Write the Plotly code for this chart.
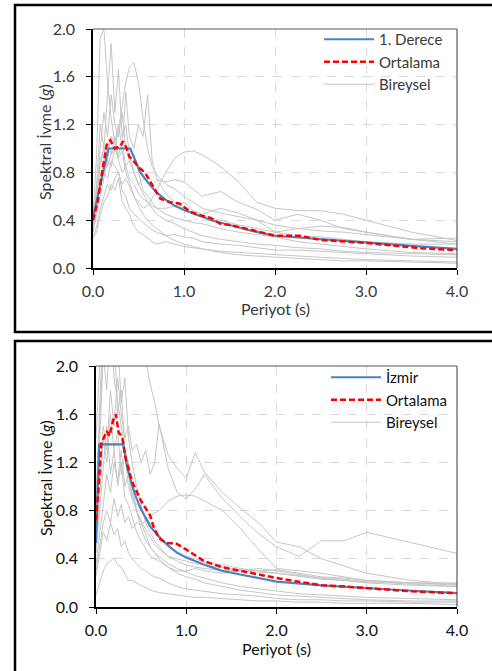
import plotly.graph_objects as go

# ---------------- data ----------------
PERIODS = [0, 0.04, 0.08, 0.12, 0.16, 0.2, 0.24, 0.28, 0.32, 0.36, 0.4, 0.45, 0.5, 0.55, 0.6, 0.65,
           0.7, 0.8, 0.9, 1.0, 1.1, 1.2, 1.4, 1.6, 1.8, 2.0, 2.25, 2.5, 2.75, 3.0, 3.5, 4.0]

# top panel: individual records (Bireysel)
top_rec_1 = [0.42, 0.95, 1.93, 2.0, 1.55, 1.25, 1.05, 0.92, 0.98, 0.80, 0.72, 0.60, 0.52, 0.45, 0.40, 0.36,
             0.33, 0.27, 0.23, 0.20, 0.18, 0.16, 0.13, 0.11, 0.10, 0.09, 0.08, 0.07, 0.06, 0.06, 0.05, 0.04]
top_rec_2 = [0.38, 0.70, 1.20, 1.00, 1.45, 1.88, 1.30, 1.66, 1.10, 1.20, 0.95, 0.80, 0.70, 0.62, 0.55, 0.50,
             0.45, 0.40, 0.37, 0.33, 0.30, 0.27, 0.24, 0.22, 0.20, 0.19, 0.17, 0.16, 0.14, 0.13, 0.12, 0.11]
top_rec_3 = [0.30, 0.45, 0.60, 0.75, 0.90, 0.85, 1.00, 1.15, 1.35, 1.55, 1.68, 1.72, 1.55, 1.25, 1.00, 0.85,
             0.78, 0.70, 0.66, 0.60, 0.55, 0.50, 0.46, 0.43, 0.40, 0.36, 0.33, 0.31, 0.30, 0.28, 0.24, 0.20]
top_rec_4 = [0.40, 0.60, 0.85, 1.00, 0.90, 1.10, 1.05, 1.20, 1.00, 1.47, 1.10, 1.00, 1.20, 1.10, 1.45, 0.90,
             0.75, 0.62, 0.55, 0.50, 0.46, 0.44, 0.40, 0.36, 0.33, 0.30, 0.27, 0.26, 0.24, 0.22, 0.20, 0.20]
top_rec_5 = [0.25, 0.35, 0.50, 0.60, 0.70, 0.65, 0.75, 0.80, 0.70, 0.75, 0.68, 0.60, 0.55, 0.50, 0.52, 0.58,
             0.65, 0.80, 0.92, 0.97, 0.98, 0.95, 0.85, 0.72, 0.55, 0.50, 0.48, 0.48, 0.45, 0.40, 0.30, 0.23]
top_rec_6 = [0.35, 0.55, 0.75, 0.90, 1.05, 0.95, 1.10, 0.95, 1.05, 0.85, 0.90, 0.80, 0.70, 0.75, 0.72, 0.70,
             0.74, 0.72, 0.74, 0.72, 0.66, 0.60, 0.64, 0.55, 0.49, 0.40, 0.45, 0.40, 0.33, 0.30, 0.24, 0.22]
top_rec_7 = [0.40, 0.60, 0.90, 1.00, 0.85, 0.95, 1.00, 0.90, 0.80, 0.85, 0.75, 0.70, 0.62, 0.58, 0.55, 0.52,
             0.50, 0.50, 0.52, 0.55, 0.48, 0.45, 0.50, 0.46, 0.40, 0.30, 0.33, 0.35, 0.34, 0.30, 0.24, 0.25]
top_rec_8 = [0.25, 0.30, 0.45, 0.55, 0.60, 0.70, 0.65, 0.75, 0.55, 0.50, 0.45, 0.35, 0.30, 0.28, 0.25, 0.22,
             0.20, 0.22, 0.20, 0.18, 0.17, 0.16, 0.14, 0.13, 0.12, 0.11, 0.10, 0.09, 0.08, 0.07, 0.06, 0.05]
top_rec_9 = [0.30, 0.50, 0.70, 0.80, 0.75, 0.90, 0.85, 0.80, 0.65, 0.60, 0.50, 0.45, 0.42, 0.38, 0.35, 0.32,
             0.30, 0.27, 0.28, 0.26, 0.25, 0.22, 0.20, 0.19, 0.17, 0.15, 0.15, 0.14, 0.13, 0.12, 0.10, 0.09]
top_rec_10 = [0.40, 0.65, 1.00, 1.30, 1.10, 1.45, 1.20, 1.10, 1.30, 1.00, 0.90, 0.95, 0.80, 0.65, 0.60, 0.55,
              0.50, 0.45, 0.42, 0.40, 0.38, 0.37, 0.33, 0.30, 0.28, 0.26, 0.22, 0.20, 0.18, 0.16, 0.13, 0.12]

# top panel: design spectrum (1. Derece) and mean (Ortalama)
top_design_T = [0, 0.17, 0.41, 0.45, 0.52, 0.6, 0.7, 0.8, 0.9, 1.0, 1.15, 1.3, 1.5, 1.75, 2.0, 2.5, 3.0, 3.5, 4.0]
top_design_Sa = [0.42, 1.0, 1.0, 0.93, 0.80, 0.72, 0.63, 0.57, 0.52, 0.485, 0.44, 0.40, 0.36, 0.31, 0.27,
                 0.24, 0.21, 0.185, 0.16]
top_mean_T = [0, 0.05, 0.1, 0.15, 0.19, 0.24, 0.3, 0.33, 0.37, 0.4, 0.44, 0.52, 0.57, 0.63, 0.68, 0.74, 0.85,
              0.95, 1.0, 1.07, 1.18, 1.29, 1.4, 1.5, 1.73, 2.0, 2.27, 2.5, 3.0, 3.3, 3.6, 4.0]
top_mean_Sa = [0.40, 0.55, 0.80, 1.03, 1.07, 1.0, 1.02, 1.06, 1.0, 0.93, 0.90, 0.83, 0.80, 0.72, 0.65, 0.58,
               0.55, 0.54, 0.51, 0.47, 0.44, 0.42, 0.37, 0.36, 0.32, 0.27, 0.27, 0.235, 0.21, 0.19, 0.165, 0.15]

# bottom panel: individual records (Bireysel)
bot_rec_1 = [0.90, 1.60, 2.40, 2.60, 2.30, 2.80, 2.50, 2.70, 2.40, 2.60, 2.30, 2.50, 2.25, 2.05, 1.85, 1.70,
             1.50, 1.26, 1.15, 1.07, 1.28, 1.12, 0.95, 0.82, 0.70, 0.54, 0.50, 0.40, 0.34, 0.28, 0.22, 0.19]
bot_rec_2 = [0.70, 1.10, 1.50, 1.30, 1.80, 1.50, 1.90, 1.60, 1.40, 1.50, 1.30, 1.35, 1.20, 1.30, 1.10, 1.20,
             1.52, 1.15, 0.95, 0.90, 0.98, 1.10, 0.90, 0.75, 0.61, 0.50, 0.42, 0.55, 0.55, 0.62, 0.53, 0.445]
bot_rec_3 = [0.30, 0.50, 0.70, 0.80, 0.70, 0.90, 0.75, 0.85, 0.70, 0.75, 0.65, 0.70, 0.68, 0.72, 0.75, 0.78,
             0.80, 0.88, 0.92, 0.93, 0.92, 0.88, 0.80, 0.65, 0.48, 0.32, 0.30, 0.28, 0.25, 0.22, 0.20, 0.20]
bot_rec_4 = [1.40, 2.30, 2.60, 2.10, 2.40, 1.90, 1.70, 1.50, 1.30, 1.10, 0.95, 0.80, 0.70, 0.60, 0.50, 0.45,
             0.42, 0.36, 0.32, 0.29, 0.26, 0.24, 0.20, 0.17, 0.15, 0.13, 0.11, 0.10, 0.09, 0.08, 0.07, 0.06]
bot_rec_5 = [0.60, 1.30, 2.10, 1.80, 2.40, 2.00, 2.20, 1.70, 1.90, 1.40, 1.20, 1.00, 0.85, 0.70, 0.62, 0.55,
             0.50, 0.42, 0.38, 0.35, 0.33, 0.32, 0.30, 0.31, 0.30, 0.31, 0.28, 0.25, 0.24, 0.22, 0.20, 0.18]
bot_rec_6 = [0.50, 0.90, 1.40, 1.20, 1.60, 1.30, 1.45, 1.10, 1.25, 1.00, 0.90, 0.80, 0.72, 0.64, 0.58, 0.52,
             0.48, 0.42, 0.40, 0.38, 0.36, 0.35, 0.33, 0.30, 0.29, 0.28, 0.26, 0.24, 0.22, 0.21, 0.20, 0.19]
bot_rec_7 = [0.45, 0.80, 1.20, 1.50, 1.10, 1.30, 1.00, 1.20, 0.90, 0.85, 0.75, 0.62, 0.55, 0.48, 0.42, 0.40,
             0.38, 0.33, 0.30, 0.30, 0.32, 0.30, 0.28, 0.30, 0.32, 0.30, 0.27, 0.24, 0.23, 0.21, 0.19, 0.17]
bot_rec_8 = [0.10, 0.20, 0.30, 0.36, 0.38, 0.41, 0.35, 0.33, 0.28, 0.22, 0.22, 0.20, 0.18, 0.16, 0.14, 0.13,
             0.12, 0.11, 0.10, 0.09, 0.08, 0.08, 0.07, 0.06, 0.05, 0.05, 0.04, 0.04, 0.03, 0.03, 0.03, 0.02]
bot_rec_9 = [0.25, 0.45, 0.62, 0.55, 0.70, 0.60, 0.65, 0.50, 0.55, 0.45, 0.40, 0.36, 0.32, 0.30, 0.27, 0.25,
             0.24, 0.20, 0.17, 0.15, 0.14, 0.13, 0.11, 0.10, 0.09, 0.07, 0.06, 0.06, 0.05, 0.05, 0.04, 0.04]
bot_rec_10 = [0.80, 1.50, 2.20, 2.70, 2.00, 2.30, 1.60, 1.80, 1.30, 1.20, 1.00, 0.80, 0.65, 0.55, 0.50, 0.44,
              0.40, 0.33, 0.28, 0.25, 0.23, 0.20, 0.17, 0.14, 0.12, 0.10, 0.09, 0.08, 0.07, 0.06, 0.05, 0.05]
bot_rec_11 = [0.35, 0.60, 0.90, 1.10, 0.95, 1.20, 1.05, 1.30, 1.00, 1.10, 0.90, 0.85, 0.80, 0.75, 0.70, 0.65,
              0.60, 0.50, 0.45, 0.42, 0.40, 0.37, 0.35, 0.32, 0.30, 0.28, 0.26, 0.23, 0.22, 0.20, 0.18, 0.17]

# bottom panel: design spectrum (İzmir) and mean (Ortalama)
bot_design_T = [0, 0.035, 0.3, 0.35, 0.4, 0.45, 0.5, 0.6, 0.7, 0.8, 0.9, 1.0, 1.2, 1.4, 1.6, 1.8, 2.0, 2.5,
                3.0, 3.5, 4.0]
bot_design_Sa = [0.53, 1.35, 1.35, 1.15, 1.01, 0.90, 0.81, 0.67, 0.58, 0.51, 0.45, 0.41, 0.35, 0.30, 0.27,
                 0.24, 0.21, 0.18, 0.155, 0.135, 0.115]
bot_mean_T = [0, 0.03, 0.06, 0.1, 0.12, 0.15, 0.19, 0.22, 0.25, 0.29, 0.33, 0.4, 0.45, 0.5, 0.55, 0.6, 0.64,
              0.7, 0.78, 0.88, 0.95, 1.05, 1.2, 1.4, 1.6, 1.8, 2.0, 2.25, 2.5, 2.75, 3.0, 3.5, 4.0]
bot_mean_Sa = [0.72, 1.0, 1.36, 1.42, 1.46, 1.42, 1.55, 1.60, 1.45, 1.41, 1.23, 1.04, 0.96, 0.88, 0.82, 0.76,
               0.66, 0.57, 0.53, 0.53, 0.50, 0.45, 0.38, 0.33, 0.30, 0.27, 0.24, 0.21, 0.18, 0.17, 0.155,
               0.13, 0.114]

X_TICKS = [0, 1, 2, 3, 4]
Y_TICKS = [0, 0.4, 0.8, 1.2, 1.6, 2.0]

top_records = [top_rec_1, top_rec_2, top_rec_3, top_rec_4, top_rec_5, top_rec_6, top_rec_7, top_rec_8,
               top_rec_9, top_rec_10]
bot_records = [bot_rec_1, bot_rec_2, bot_rec_3, bot_rec_4, bot_rec_5, bot_rec_6, bot_rec_7, bot_rec_8,
               bot_rec_9, bot_rec_10, bot_rec_11]

# ---------------- style ----------------
W, H = 492, 671
FONT = "Lato"
FS = 16
LFS = 15
GRAY = "#c6c6c6"
BLUE = "#4a83c2"
RED = "#ff0000"
TOP_COLOR = "#3a3a3a"
BOT_COLOR = "#111111"

fig = go.Figure()


def add_panel(records, design_T, design_Sa, design_name, mean_T, mean_Sa, xa, ya, legend):
    for i, rec in enumerate(records):
        fig.add_trace(go.Scatter(x=PERIODS, y=rec, mode="lines", xaxis=xa, yaxis=ya,
                                 line=dict(color=GRAY, width=1), name="Bireysel",
                                 showlegend=(i == 0), legend=legend, legendrank=3, hoverinfo="skip"))
    fig.add_trace(go.Scatter(x=design_T, y=design_Sa, mode="lines", xaxis=xa, yaxis=ya,
                             line=dict(color=BLUE, width=2.2), name=design_name,
                             legend=legend, legendrank=1))
    fig.add_trace(go.Scatter(x=mean_T, y=mean_Sa, mode="lines", xaxis=xa, yaxis=ya,
                             line=dict(color=RED, width=2.5, dash="6px,3px"), name="Ortalama",
                             legend=legend, legendrank=2))


add_panel(top_records, top_design_T, top_design_Sa, "1. Derece", top_mean_T, top_mean_Sa, "x", "y", "legend")
add_panel(bot_records, bot_design_T, bot_design_Sa, "İzmir", bot_mean_T, bot_mean_Sa, "x2", "y2", "legend2")


def px_x(p):
    return p / W


def px_y(p):
    return 1 - p / H


def xaxis_cfg(left, right, anchor, color):
    return dict(domain=[px_x(left), px_x(right)], range=[0, 4], anchor=anchor, tickvals=X_TICKS,
                tickformat=".1f", showgrid=True, gridcolor="#d9d9d9", griddash="dash", gridwidth=1,
                zeroline=False, showline=True, linecolor="black", linewidth=1.5, ticks="outside",
                ticklen=5, tickcolor="black", tickwidth=1.2, ticklabelstandoff=3, automargin=False,
                tickfont=dict(family=FONT, size=FS, color=color), fixedrange=True)


def yaxis_cfg(top, bottom, anchor, color):
    return dict(domain=[px_y(bottom), px_y(top)], range=[0, 2], anchor=anchor, tickvals=Y_TICKS,
                tickformat=".1f", showgrid=True, gridcolor="#d9d9d9", griddash="dash", gridwidth=1,
                zeroline=False, showline=True, linecolor="black", linewidth=1.5, ticks="outside",
                ticklen=5, tickcolor="black", tickwidth=1.2, ticklabelstandoff=8, automargin=False,
                tickfont=dict(family=FONT, size=FS, color=color), fixedrange=True)


fig.update_layout(
    width=W, height=H, margin=dict(l=0, r=0, t=0, b=0, pad=0, autoexpand=False),
    paper_bgcolor="white", plot_bgcolor="white",
    xaxis=xaxis_cfg(93, 457, "y", TOP_COLOR),
    yaxis=yaxis_cfg(29, 268, "x", TOP_COLOR),
    xaxis2=xaxis_cfg(96, 457, "y2", BOT_COLOR),
    yaxis2=yaxis_cfg(366, 607, "x2", BOT_COLOR),
    legend=dict(x=px_x(319), y=px_y(23), xanchor="left", yanchor="top", bgcolor="rgba(0,0,0,0)",
                font=dict(family=FONT, size=LFS, color=TOP_COLOR), itemwidth=50, tracegroupgap=0),
    legend2=dict(x=px_x(326), y=px_y(361), xanchor="left", yanchor="top", bgcolor="rgba(0,0,0,0)",
                 font=dict(family=FONT, size=LFS, color=BOT_COLOR), itemwidth=50, tracegroupgap=0),
    showlegend=True,
)

shapes = []
# plot area top / right borders
for xd, yd in (("x domain", "y domain"), ("x2 domain", "y2 domain")):
    shapes.append(dict(type="line", xref=xd, yref=yd, x0=0, x1=1, y0=1, y1=1,
                       line=dict(color="#595959", width=1.2)))
    shapes.append(dict(type="line", xref=xd, yref=yd, x0=1, x1=1, y0=0, y1=1,
                       line=dict(color="#595959", width=1.2)))
# outer panel frames (right / bottom sides run past the picture edge)
shapes.append(dict(type="rect", xref="paper", yref="paper", x0=px_x(15), x1=px_x(500),
                   y0=px_y(332), y1=px_y(5), line=dict(color="black", width=2.5)))
shapes.append(dict(type="rect", xref="paper", yref="paper", x0=px_x(15), x1=px_x(500),
                   y0=px_y(690), y1=px_y(341), line=dict(color="black", width=2.5)))
fig.update_layout(shapes=shapes)

annotations = [
    dict(text="Periyot (s)", x=px_x(275), y=px_y(308), xref="paper", yref="paper", showarrow=False,
         font=dict(family=FONT, size=FS, color=TOP_COLOR), xanchor="center", yanchor="middle"),
    dict(text="Spektral İvme (<i>g</i>)", x=px_x(45), y=px_y(142), xref="paper", yref="paper",
         showarrow=False, textangle=-90, font=dict(family=FONT, size=FS, color=TOP_COLOR),
         xanchor="center", yanchor="middle"),
    dict(text="Periyot (s)", x=px_x(276), y=px_y(648), xref="paper", yref="paper", showarrow=False,
         font=dict(family=FONT, size=FS, color=BOT_COLOR), xanchor="center", yanchor="middle"),
    dict(text="Spektral İvme (<i>g</i>)", x=px_x(45), y=px_y(478), xref="paper", yref="paper",
         showarrow=False, textangle=-90, font=dict(family=FONT, size=FS, color=BOT_COLOR),
         xanchor="center", yanchor="middle"),
]
fig.update_layout(annotations=annotations)

fig.write_html("out.html")
